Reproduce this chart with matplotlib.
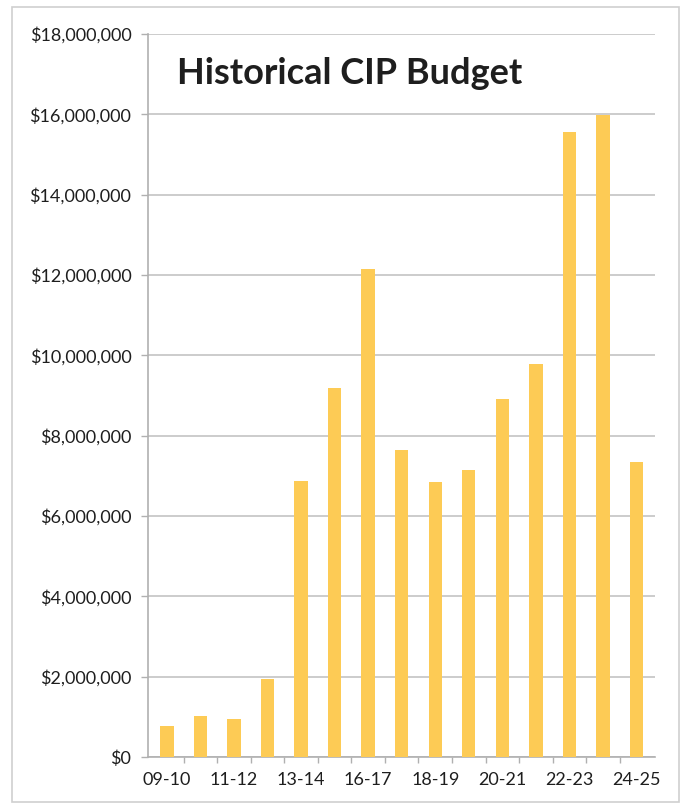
import matplotlib.pyplot as plt
from matplotlib.patches import Rectangle
from matplotlib.ticker import FuncFormatter

# Fiscal years and CIP budget (dollars)
years = ["09-10", "10-11", "11-12", "12-13", "13-14", "14-15", "16-17", "17-18",
         "18-19", "19-20", "20-21", "21-22", "22-23", "23-24", "24-25"]
budget = [770000, 1020000, 950000, 1940000, 6860000, 9190000, 12150000, 7640000,
          6850000, 7140000, 8920000, 9780000, 15550000, 15980000, 7350000]
y_ticks = list(range(0, 18000001, 2000000))

BAR_COLOR = "#FDCB55"
GRID_COLOR = "#C4C4C4"
TEXT_COLOR = "#1E1E1E"

plt.rcParams["font.family"] = ["Lato", "DejaVu Sans"]

fig = plt.figure(figsize=(6.84, 8.06), dpi=100)
ax = fig.add_axes([0.2164, 0.0608, 0.7412, 0.897])

# light frame around the whole chart
fig.patches.append(Rectangle((12 / 684, 4 / 806), 667 / 684, 795 / 806,
                             transform=fig.transFigure, fill=False,
                             edgecolor="#CFCFCF", linewidth=1.2))

x = list(range(len(years)))
ax.bar(x, budget, width=0.40, color=BAR_COLOR, zorder=3)

ax.set_ylim(0, 18000000)
ax.set_xlim(-0.56, len(years) - 0.45)
ax.set_yticks(y_ticks)
ax.yaxis.set_major_formatter(FuncFormatter(lambda v, _: f"${v:,.0f}"))
ax.grid(axis="y", color=GRID_COLOR, linewidth=1.2, zorder=0)

# category labels on every other year, tick marks between categories
ax.set_xticks([i + 0.5 for i in x[:-1]])
ax.set_xticklabels([])
ax.set_xticks(x[::2], minor=True)
ax.set_xticklabels(years[::2], minor=True)
ax.tick_params(axis="x", which="major", length=4, color="#B0B0B0", width=1)
ax.tick_params(axis="x", which="minor", length=0, pad=11,
               labelsize=13, labelcolor=TEXT_COLOR)
ax.tick_params(axis="y", length=5, color="#B0B0B0", width=1, pad=7,
               labelsize=13, labelcolor=TEXT_COLOR)

for side in ("top", "right"):
    ax.spines[side].set_visible(False)
for side in ("left", "bottom"):
    ax.spines[side].set_color("#B0B0B0")
    ax.spines[side].set_linewidth(1.2)

ax.text(0.058, 0.945, "Historical CIP Budget", transform=ax.transAxes,
        fontsize=26, fontweight="bold", color=TEXT_COLOR, va="center", ha="left")

fig.savefig("out.png", dpi=100, facecolor="white")
